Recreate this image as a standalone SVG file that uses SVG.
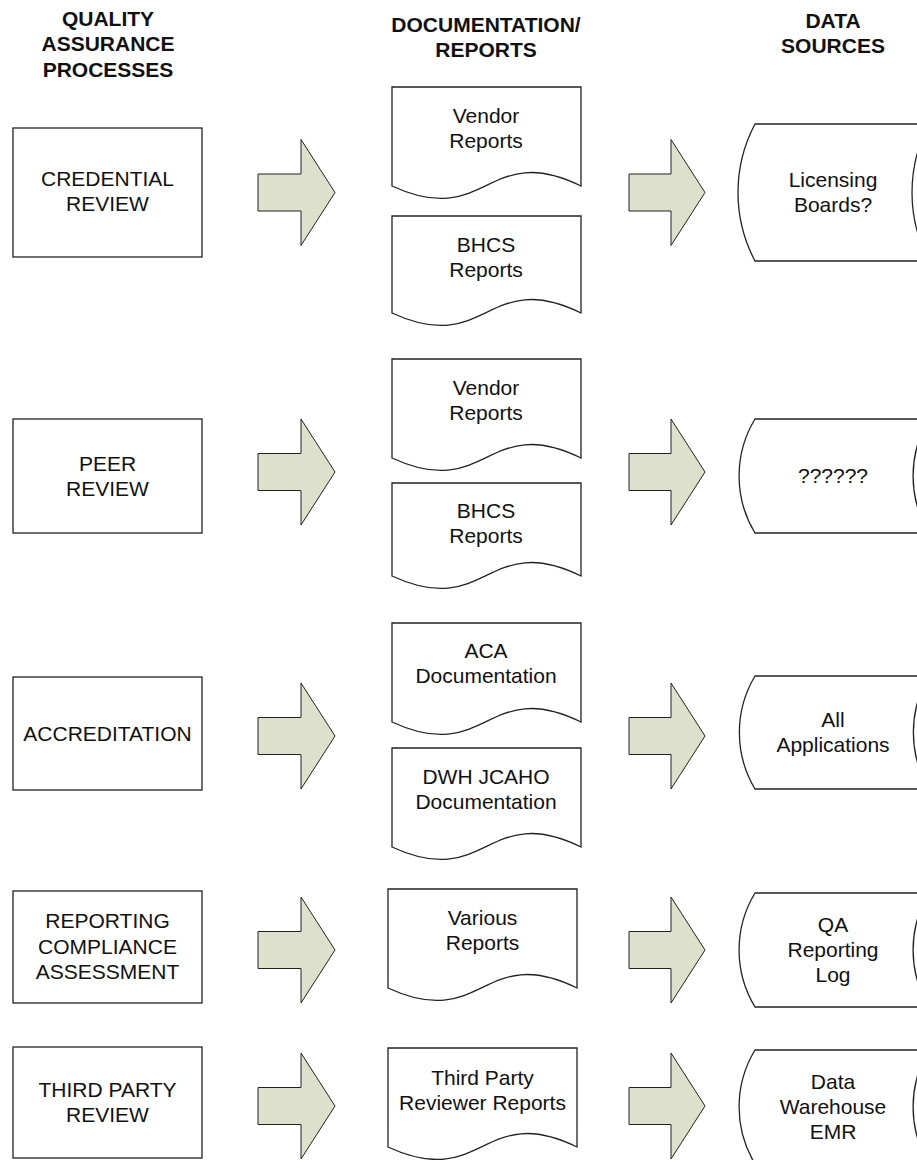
<svg xmlns="http://www.w3.org/2000/svg" width="917" height="1160" viewBox="0 0 917 1160">
<style>
.hd{font-family:"Liberation Sans",Arial,sans-serif;font-size:21px;font-weight:bold;fill:#111;text-anchor:middle}
.tx{font-family:"Liberation Sans",Arial,sans-serif;font-size:21px;fill:#111;text-anchor:middle}
.box{fill:#fff;stroke:#222;stroke-width:1.3}
.arr{fill:#dde0cb;stroke:#222;stroke-width:1}
</style>
<rect width="917" height="1160" fill="#fff"/>
<g id="headers">
<text class="hd" x="108" y="26">QUALITY</text>
<text class="hd" x="108" y="51">ASSURANCE</text>
<text class="hd" x="108" y="77">PROCESSES</text>
<text class="hd" x="486" y="32">DOCUMENTATION/</text>
<text class="hd" x="486" y="57">REPORTS</text>
<text class="hd" x="833" y="28">DATA</text>
<text class="hd" x="833" y="53">SOURCES</text>
</g>
<g id="p1"><rect class="box" x="13" y="128" width="189" height="129"/><text class="tx" x="107.5" y="186">CREDENTIAL</text><text class="tx" x="107.5" y="211">REVIEW</text></g>
<g id="p2"><rect class="box" x="13" y="419" width="189" height="114"/><text class="tx" x="107.5" y="471">PEER</text><text class="tx" x="107.5" y="496">REVIEW</text></g>
<g id="p3"><rect class="box" x="13" y="677" width="189" height="113"/><text class="tx" x="107.5" y="741">ACCREDITATION</text></g>
<g id="p4"><rect class="box" x="13" y="891" width="189" height="112"/><text class="tx" x="107.5" y="928">REPORTING</text><text class="tx" x="107.5" y="954">COMPLIANCE</text><text class="tx" x="107.5" y="979">ASSESSMENT</text></g>
<g id="p5"><rect class="box" x="13" y="1047" width="189" height="111"/><text class="tx" x="107.5" y="1097">THIRD PARTY</text><text class="tx" x="107.5" y="1122">REVIEW</text></g>

<g id="d1a"><path class="box" d="M392,87 H581 V186 C487,140 487,230 392,186 Z"/><text class="tx" x="486" y="123">Vendor</text><text class="tx" x="486" y="148">Reports</text></g>
<g id="d1b"><path class="box" d="M392,216 H581 V313 C487,267 487,357 392,313 Z"/><text class="tx" x="486" y="252">BHCS</text><text class="tx" x="486" y="277">Reports</text></g>
<g id="d2a"><path class="box" d="M392,359 H581 V458 C487,412 487,502 392,458 Z"/><text class="tx" x="486" y="395">Vendor</text><text class="tx" x="486" y="420">Reports</text></g>
<g id="d2b"><path class="box" d="M392,483 H581 V576 C487,530 487,620 392,576 Z"/><text class="tx" x="486" y="518">BHCS</text><text class="tx" x="486" y="543">Reports</text></g>
<g id="d3a"><path class="box" d="M392,623 H581 V722 C487,676 487,766 392,722 Z"/><text class="tx" x="486" y="658">ACA</text><text class="tx" x="486" y="683">Documentation</text></g>
<g id="d3b"><path class="box" d="M392,748 H581 V847 C487,801 487,891 392,847 Z"/><text class="tx" x="486" y="784">DWH JCAHO</text><text class="tx" x="486" y="809">Documentation</text></g>
<g id="d4"><path class="box" d="M388,889 H577 V988 C483,942 483,1032 388,988 Z"/><text class="tx" x="482.5" y="925">Various</text><text class="tx" x="482.5" y="950">Reports</text></g>
<g id="d5"><path class="box" d="M388,1048 H577 V1147 C483,1101 483,1191 388,1147 Z"/><text class="tx" x="482.5" y="1085">Third Party</text><text class="tx" x="482.5" y="1110">Reviewer Reports</text></g>

<g id="s1"><path class="box" d="M755,124 H929 A146.5,146.5 0 0 0 929,261 H755 A146.5,146.5 0 0 1 755,124 Z"/><text class="tx" x="833" y="187">Licensing</text><text class="tx" x="833" y="212">Boards?</text></g>
<g id="s2"><path class="box" d="M755,419 H929 A110,110 0 0 0 929,533 H755 A110,110 0 0 1 755,419 Z"/><text class="tx" x="833" y="483">??????</text></g>
<g id="s3"><path class="box" d="M755,676 H929 A110,110 0 0 0 929,789 H755 A110,110 0 0 1 755,676 Z"/><text class="tx" x="833" y="727">All</text><text class="tx" x="833" y="752">Applications</text></g>
<g id="s4"><path class="box" d="M755,893 H929 A110,110 0 0 0 929,1007 H755 A110,110 0 0 1 755,893 Z"/><text class="tx" x="833" y="932">QA</text><text class="tx" x="833" y="957">Reporting</text><text class="tx" x="833" y="982">Log</text></g>
<g id="s5"><path class="box" d="M755,1050 H929 A110,110 0 0 0 929,1164 H755 A110,110 0 0 1 755,1050 Z"/><text class="tx" x="833" y="1089">Data</text><text class="tx" x="833" y="1114">Warehouse</text><text class="tx" x="833" y="1139">EMR</text></g>

<g id="connectors">
<path class="arr" d="M258,174 H301 V139.5 L335,192.5 L301,245.5 V211 H258 Z"/>
<path class="arr" d="M629,174 H671 V139.5 L705,192.5 L671,245.5 V211 H629 Z"/>
<path class="arr" d="M258,453.5 H301 V419 L335,472 L301,525 V490.5 H258 Z"/>
<path class="arr" d="M629,453.5 H671 V419 L705,472 L671,525 V490.5 H629 Z"/>
<path class="arr" d="M258,717.5 H301 V683 L335,736 L301,789 V754.5 H258 Z"/>
<path class="arr" d="M629,717.5 H671 V683 L705,736 L671,789 V754.5 H629 Z"/>
<path class="arr" d="M258,931.5 H301 V897 L335,950 L301,1003 V968.5 H258 Z"/>
<path class="arr" d="M629,931.5 H671 V897 L705,950 L671,1003 V968.5 H629 Z"/>
<path class="arr" d="M258,1087.5 H301 V1053 L335,1106 L301,1159 V1124.5 H258 Z"/>
<path class="arr" d="M629,1087.5 H671 V1053 L705,1106 L671,1159 V1124.5 H629 Z"/>
</g>
</svg>
